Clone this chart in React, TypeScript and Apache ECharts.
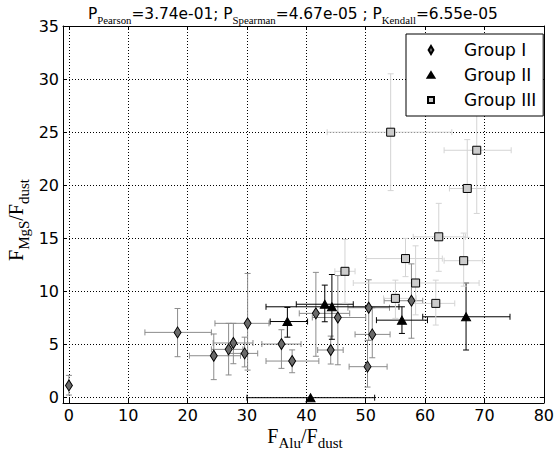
import React, { useEffect, useRef } from 'react';
import * as echarts from 'echarts';

const xTicks = [0, 10, 20, 30, 40, 50, 60, 70, 80];
const yTicks = [0, 5, 10, 15, 20, 25, 30, 35];

// each point: [x, y, xLow, xHigh, yLow, yHigh]
const groupI = [
  [0, 1.15, 0, 0, 0.25, 2.1],
  [18.3, 6.15, 12.8, 24.0, 3.86, 8.4],
  [24.4, 3.95, 20.3, 28.9, 1.7, 6.0],
  [26.9, 4.55, 24.0, 29.3, 2.14, 7.0],
  [27.7, 5.15, 24.3, 31.0, 3.2, 7.0],
  [29.6, 4.17, 26.8, 31.8, 2.9, 5.7],
  [30.1, 7.0, 24.6, 33.7, 2.6, 11.7],
  [35.8, 5.05, 32.5, 39.1, 2.76, 6.4],
  [37.6, 3.45, 33.2, 42.1, 2.35, 4.5],
  [41.6, 7.94, 38.8, 47.3, 3.9, 11.8],
  [44.1, 4.49, 41.9, 46.2, 3.17, 5.8],
  [45.3, 7.55, 41.0, 50.0, 3.1, 11.5],
  [50.5, 8.47, 47.0, 54.0, 5.4, 11.1],
  [50.3, 2.92, 47.2, 53.6, 1.0, 5.4],
  [51.1, 5.96, 48.2, 54.1, 3.76, 8.47],
  [57.7, 9.13, 53.1, 59.6, 5.6, 12.6],
];

const groupII = [
  [36.8, 7.17, 33.9, 40.2, 5.7, 8.5],
  [43.1, 8.8, 38.3, 47.9, 7.15, 10.6],
  [44.3, 8.56, 33.2, 55.6, 5.5, 11.6],
  [56.1, 7.3, 51.8, 60.4, 6.05, 8.56],
  [66.9, 7.62, 59.6, 74.3, 4.49, 10.8],
  [40.7, 0.0, 30.0, 51.5, 0, 0],
];

const groupIII = [
  [54.2, 25.0, 43.5, 64.5, 19.5, 30.5],
  [68.7, 23.3, 63.2, 74.5, 17.35, 27.5],
  [67.1, 19.7, 64.1, 70.1, 15.1, 24.3],
  [62.3, 15.15, 58.0, 66.8, 11.9, 18.3],
  [56.7, 13.1, 50.1, 62.9, 11.4, 15.0],
  [66.5, 12.9, 63.2, 69.7, 10.5, 15.5],
  [46.5, 11.9, 44.8, 48.2, 8.9, 14.9],
  [58.4, 10.8, 47.9, 69.1, 7.8, 14.3],
  [55.0, 9.35, 53.0, 58.5, 7.47, 11.07],
  [61.8, 8.88, 57.9, 65.0, 6.84, 11.07],
];

const groupNames = ['Group I', 'Group II', 'Group III'];
const titleText =
  '{m|P}{s|Pearson}{m|=3.74e-01; P}{s|Spearman}{m|=4.67e-05 ; P}{s|Kendall}{m|=6.55e-05}';

function errRender(color: string) {
  return (params: any, api: any) => {
    const x = api.value(0);
    const y = api.value(1);
    const xlo = api.value(2);
    const xhi = api.value(3);
    const ylo = api.value(4);
    const yhi = api.value(5);
    const c = api.coord([x, y]);
    const cap = 3;
    const style = { stroke: color, lineWidth: 1, fill: null };
    const children: any[] = [];
    const ln = (x1: number, y1: number, x2: number, y2: number) => ({
      type: 'line',
      shape: { x1, y1, x2, y2 },
      style,
      silent: true,
    });
    if (xhi > xlo) {
      const a = api.coord([xlo, y])[0];
      const b = api.coord([xhi, y])[0];
      children.push(ln(a, c[1], b, c[1]));
      children.push(ln(a, c[1] - cap, a, c[1] + cap));
      children.push(ln(b, c[1] - cap, b, c[1] + cap));
    }
    if (yhi > ylo) {
      const a = api.coord([x, ylo])[1];
      const b = api.coord([x, yhi])[1];
      children.push(ln(c[0], a, c[0], b));
      children.push(ln(c[0] - cap, a, c[0] + cap, a));
      children.push(ln(c[0] - cap, b, c[0] + cap, b));
    }
    return { type: 'group', children };
  };
}

const subRich = (main: number, sub: number, lh: number, subH: number, mainFamily: string) => ({
  m: {
    fontFamily: mainFamily,
    fontSize: main,
    fontWeight: 'normal',
    lineHeight: lh,
    height: lh,
    verticalAlign: 'middle',
    color: '#000',
    fill: '#000',
  },
  s: {
    fontFamily: 'Liberation Serif',
    fontSize: sub,
    fontWeight: 'normal',
    lineHeight: lh,
    height: subH,
    verticalAlign: 'bottom',
    color: '#000',
    fill: '#000',
  },
});

export default function App() {
  const ref = useRef<HTMLDivElement>(null);
  useEffect(() => {
    if (!ref.current) return;
    const chart = echarts.init(ref.current, null, { renderer: 'svg' });
    const dotted = { type: [1, 2], color: '#000', width: 1 };
    const axisLine = { show: true, onZero: false, lineStyle: { color: '#000', width: 1 } };
    const xBase = { type: 'value', min: -1, max: 80, gridIndex: 0 };
    const yBase = { type: 'value', min: -0.5, max: 35, gridIndex: 0 };
    const tick = (vals: number[]) => ({
      show: true,
      inside: true,
      length: 4,
      customValues: vals,
      lineStyle: { color: '#000', width: 1 },
    });
    const labelStyle = { fontSize: 16, color: '#000', fontFamily: 'DejaVu Sans' };
    const errColors = ['#8c8c8c', '#000000', '#d4d4d4'];
    const fills = ['#6a6a6a', '#000000', '#cccccc'];
    const symbols = ['diamond', 'triangle', 'rect'];
    const sizes: any[] = [[7, 11], [9, 8], [8, 8]];
    const groups = [groupI, groupII, groupIII];
    const series: any[] = [];
    groups.forEach((g, i) => {
      series.push({
        type: 'custom',
        name: groupNames[i] + ' err',
        renderItem: errRender(errColors[i]),
        data: g,
        encode: { x: [0, 2, 3], y: [1, 4, 5] },
        clip: false,
        silent: true,
      });
      series.push({
        type: 'scatter',
        name: groupNames[i],
        data: g.map((d) => [d[0], d[1]]),
        symbol: symbols[i],
        symbolSize: sizes[i],
        itemStyle: { color: fills[i], borderColor: '#000', borderWidth: 1, opacity: 1 },
        clip: false,
        silent: true,
      });
    });
    const legendIcons = [
      'path://M5,1L7.4,5L5,9L2.6,5Z M0,0 M10,10',
      'path://M5,2.2L8.4,7.8L1.6,7.8Z M0,0 M10,10',
      'path://M2,2H8V8H2Z M0,0 M10,10',
    ];
    chart.setOption({
      animation: false,
      title: {
        text: titleText,
        left: 88,
        top: 5,
        padding: 0,
        textStyle: { fontWeight: 'normal', rich: subRich(15.4, 10.8, 18, 5.2, 'DejaVu Sans') },
      },
      legend: {
        orient: 'vertical',
        left: 406,
        top: 34,
        padding: [6, 7, 6, 19],
        itemWidth: 10,
        itemHeight: 10,
        itemGap: 5,
        selectedMode: false,
        backgroundColor: '#fff',
        borderColor: '#000',
        borderWidth: 1,
        borderRadius: 0,
        textStyle: {
          fontFamily: 'DejaVu Sans',
          fontSize: 17,
          color: '#000',
          lineHeight: 20,
          padding: [0, 0, 0, 23],
        },
        data: groupNames.map((n, i) => ({ name: n, icon: legendIcons[i] })),
      },
      grid: { left: 63, top: 26, width: 486, height: 377, containLabel: false },
      xAxis: [
        {
          ...xBase,
          position: 'bottom',
          axisLine,
          axisTick: tick(xTicks),
          axisLabel: { ...labelStyle, customValues: xTicks, margin: 4 },
          splitLine: { show: true, lineStyle: dotted },
        },
        {
          ...xBase,
          position: 'top',
          axisLine,
          axisTick: tick(xTicks),
          axisLabel: { show: false },
          splitLine: { show: false },
        },
      ],
      yAxis: [
        {
          ...yBase,
          position: 'left',
          axisLine,
          axisTick: tick(yTicks),
          axisLabel: { ...labelStyle, customValues: yTicks, margin: 4 },
          splitLine: { show: true, lineStyle: dotted },
        },
        {
          ...yBase,
          position: 'right',
          axisLine,
          axisTick: tick(yTicks),
          axisLabel: { show: false },
          splitLine: { show: false },
        },
      ],
      graphic: [
        {
          type: 'text',
          x: 305,
          y: 427.5,
          silent: true,
          style: {
            text: '{m|F}{s|Alu}{m|/F}{s|dust}',
            rich: subRich(20, 15, 16, 0.8, 'Liberation Serif'),
            align: 'center',
            verticalAlign: 'top',
            fill: '#000',
          },
        },
        {
          type: 'text',
          x: 16,
          y: 220,
          rotation: Math.PI / 2,
          silent: true,
          style: {
            text: '{m|F}{s|MgS}{m|/F}{s|dust}',
            rich: subRich(20, 15, 22, 6.7, 'Liberation Serif'),
            align: 'center',
            verticalAlign: 'middle',
            fill: '#000',
          },
        },
      ],
      series,
    });
    return () => chart.dispose();
  }, []);
  return (
    <div
      ref={ref}
      style={{ position: 'fixed', left: 0, top: 0, width: 557, height: 450, background: '#fff' }}
    />
  );
}
